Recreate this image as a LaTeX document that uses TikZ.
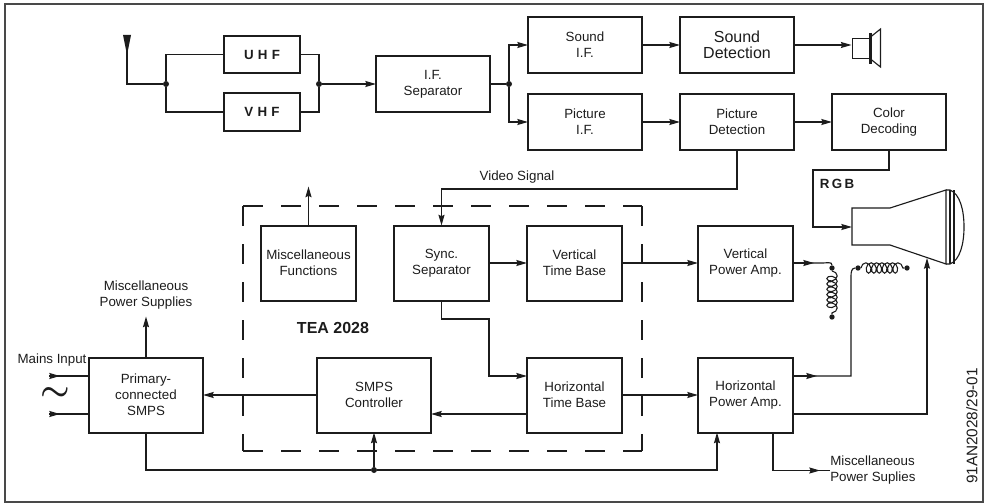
\documentclass[tikz,border=0pt]{standalone}
\usepackage{fontspec}
\setmainfont{Liberation Sans}
\usetikzlibrary{arrows.meta,positioning,calc,decorations.pathmorphing}
\definecolor{Ink}{HTML}{1C1C1C}

\begin{document}
\begin{tikzpicture}[x=0.75pt,y=-0.75pt,
  font=\fontsize{10}{12}\selectfont,
  every node/.style={text=Ink},
  sbox/.style={draw=Ink,line width=1.5pt,align=center,outer sep=0pt,inner sep=0pt,
               minimum width=71.25pt,minimum height=56.25pt},
  lbox/.style={sbox,minimum width=85.5pt},
  wbox/.style={sbox,minimum width=85.5pt,minimum height=42pt},
  tuner/.style={sbox,minimum width=57pt,minimum height=27.75pt,font=\fontsize{10}{12}\selectfont\bfseries},
  dot/.style={circle,fill=Ink,inner sep=0pt,minimum size=4.5pt},
  enddot/.style={circle,fill=Ink,inner sep=0pt,minimum size=4pt},
  lbl/.style={align=center,inner sep=0pt},
  ln/.style={draw=Ink,line width=0.85pt},
  ar/.style={ln,-{Stealth[length=8pt,width=4.5pt,inset=1pt]}},
  tea/.style={draw=Ink,line width=1.6pt,dash pattern=on 15pt off 13.5pt},
  windng/.style={ln,line width=0.8pt,decorate,decoration={coil,aspect=0.7,segment length=4pt,amplitude=3.9pt}}]
\useasboundingbox (0,0) rectangle (989,503);
\draw[draw=Ink!80,line width=1pt] (5,4) rectangle (983,502);

\node[wbox] (ifsep) at (433,84) {I.F.\\Separator};
\node[tuner,left=57pt of ifsep.west,yshift=22pt] (uhf) {U\hspace{3.2pt}H\hspace{3.2pt}F};
\node[tuner,left=57pt of ifsep.west,yshift=-21pt] (vhf) {V\hspace{3.2pt}H\hspace{3.2pt}F};
\node[wbox,right=28.5pt of ifsep.east,yshift=29.25pt] (sndif) {Sound\\I.F.};
\node[wbox,right=28.5pt of ifsep.east,yshift=-28.5pt] (picif) {Picture\\I.F.};
\node[wbox,right=28.5pt of sndif,font=\fontsize{12}{12}\selectfont] (snddet) {Sound\\Detection};
\node[wbox,right=28.5pt of picif] (picdet) {Picture\\Detection};
\node[wbox,right=28.5pt of picdet] (colordec) {Color\\Decoding};

\node[sbox] (sync) at (441.5,263) {Sync.\\Separator};
\node[sbox,left=28.5pt of sync] (misc) {Miscellaneous\\Functions};
\node[sbox,right=28.5pt of sync] (vtb) {Vertical\\Time Base};
\node[sbox,right=57pt of vtb] (vpa) {Vertical\\Power Amp.};
\node[sbox,below=42.75pt of vtb] (htb) {Horizontal\\Time Base};
\node[sbox,below=42.75pt of vpa] (hpa) {Horizontal\\Power Amp.};
\node[lbox,left=72pt of htb] (ctrl) {SMPS\\Controller};
\node[lbox,left=85.5pt of ctrl] (primary) {Primary-\\connected\\SMPS};

\node[lbl,font=\fontsize{12}{14}\selectfont\bfseries] (teaname) at (333,328) {TEA 2028};
\node[lbl] (vidlbl) at (517,177) {Video Signal};
\node[lbl,font=\fontsize{10}{12}\selectfont\bfseries] (rgblbl) at (837,184) {R\hspace{1.8pt}G\hspace{1.8pt}B};
\node[lbl] (mainslbl) at (52,360) {Mains Input};
\node[lbl,font=\Huge\boldmath] (tilde) at (55,394) {$\sim$};
\node[lbl,align=left,anchor=west] (psupr) at (830,470.5) {Miscellaneous\\Power Suplies};
\node[lbl,rotate=90,font=\fontsize{11.5}{12}\selectfont] (refno) at (972,426) {91AN2028/29-01};

\coordinate (tl) at (243,206);
\coordinate (tr) at (642,206);
\coordinate (bl) at (243,451);
\coordinate (br) at (642,451);
\draw[tea] (tl) -- (tr) (tr) -- (br) (bl) -- (br) (tl) -- (bl);

\fill[Ink] (123,35) -- (131,35) -- (127,55) -- cycle;
\coordinate (ant) at (127,50);
\node[dot] (jin) at (166,84) {};
\node[dot] (jout) at (319,84) {};
\node[dot] (jsep) at (509,84) {};
\draw[ln] (ant) |- (jin);
\draw[ln] (uhf.west) -| (jin) |- (vhf.west);
\draw[ln] (uhf.east) -| (jout) |- (vhf.east);
\draw[ar] (jout) -- (ifsep);
\draw[ln] (ifsep) -- (jsep);
\draw[ar] (jsep) |- (sndif.west);
\draw[ar] (jsep) |- (picif.west);
\foreach \a/\b in {sndif/snddet,picif/picdet,picdet/colordec,sync/vtb,vtb/vpa,htb/hpa,ctrl/primary}{%
  \draw[ar] (\a) -- (\b);}

\node[draw=Ink,line width=0.7pt,inner sep=0pt,minimum width=13.5pt,minimum height=15pt] (spk) at (861,48) {};
\draw[ar] (snddet.east) -- (snddet.east -| spk.west);
\draw[ln,line width=1.6pt] ($(spk.east)+(0,-15)$) -- ($(spk.east)+(0,16)$);
\draw[ln] ($(spk.east)+(0,-11)$) -- ++(10,-8) -- ++(0,38) -- ($(spk.east)+(0,11)$);

\coordinate (vidk) at (600,189);
\draw[ar] (picdet.south) |- (vidk) -| (sync.north);
\coordinate[above=29.25pt of misc.north] (miscend);
\draw[ar] (misc.north) -- (miscend);
\coordinate (syncb) at (489,319);
\draw[ar] (sync.south) |- (syncb) |- ($(htb.west)+(0,-19)$);
\draw[ar] ($(htb.west)+(0,19)$) -- ($(ctrl.east)+(0,19)$);

\coordinate[above=30.75pt of primary.north] (psupend);
\draw[ar] (primary.north) -- (psupend);
\node[lbl,above=5pt of psupend] (psup) {Miscellaneous\\Power Supplies};
\coordinate (mainsa) at ($(primary.west)+(-40,-19)$);
\coordinate (mainsb) at ($(primary.west)+(-40,19)$);
\draw[ln] (mainsa) -- ($(primary.west)+(0,-19)$);
\draw[ln] (mainsb) -- ($(primary.west)+(0,19)$);
\draw[ar] (mainsa) -- ++(11,0);
\draw[ar] (mainsb) -- ++(11,0);

\node[dot] (jbus) at (ctrl.south |- 0,470) {};
\draw[ln] (primary.south) |- (jbus);
\draw[ar] (jbus) -- (ctrl.south);
\draw[ar] (jbus) -| ($(hpa.south)+(-28.5,0)$);
\draw[ln] ($(hpa.south)+(27.5,0)$) |- (psupr.west);
\draw[ar] ($(hpa.south)+(27.5,0)$) |- ($(psupr.west)+(-10,0)$);

\coordinate (crtin) at (852,227);
\coordinate (rgbk) at (813,170);
\draw[ar] (colordec.south) |- (rgbk) |- (crtin);
\draw[ln] (crtin) |- (890,208) -- (946,190) -- (946,264) -- (890,245) -| (crtin);
\draw[ln] (950,190) -- (950,264) (954,190) -- (954,264);
\draw[ln] (946,190) -- (950,190) .. controls (960,194) and (964,210) .. (964,227)
  .. controls (964,244) and (960,260) .. (950,264) -- (946,264);

\node[enddot] (vca) at (832,268) {};
\node[enddot] (vcb) at (832,317) {};
\draw[ln] (vpa.east) -- ++(30,0) to[out=0,in=90] (vca);
\draw[ar] (vpa.east) -- ++(21,0);
\draw[windng] (vca) -- (vcb);
\node[enddot] (hca) at (858,268) {};
\node[enddot] (hcb) at (907,268) {};
\draw[ln] ($(hpa.east)+(0,-19)$) -| (851,276) to[out=90,in=180] (hca);
\draw[ar] ($(hpa.east)+(0,-19)$) -- ++(24,0);
\draw[windng] (hca) -- (hcb);
\coordinate (crtb) at (927,258);
\draw[ar] ($(hpa.east)+(0,19)$) -| (crtb);
\end{tikzpicture}
\end{document}
